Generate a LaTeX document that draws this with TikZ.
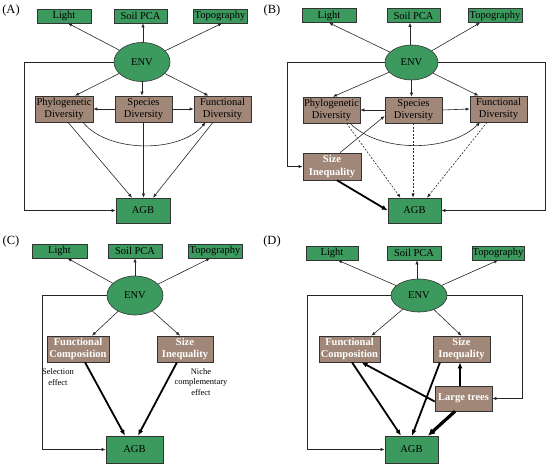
\documentclass[tikz,border=0pt]{standalone}
\usepackage{fontspec}
\setmainfont{Liberation Serif}
\usetikzlibrary{arrows.meta,shapes.geometric,calc}
\definecolor{boxgreen}{HTML}{3D9A5F}
\definecolor{boxbrown}{HTML}{A08778}
\definecolor{edgegray}{HTML}{333333}
\begin{document}
\begin{tikzpicture}[x=1pt,y=-1pt,
  every node/.style={inner sep=0pt, align=center, font=\fontsize{10.5}{12.5}\selectfont},
  gbox/.style={draw=edgegray, fill=boxgreen, line width=0.6pt, minimum height=14pt},
  abox/.style={draw=edgegray, fill=boxgreen, line width=0.6pt, minimum height=25pt},
  bbox/.style={draw=edgegray, fill=boxbrown, line width=0.6pt, minimum height=26pt},
  wbox/.style={bbox, text=white, font=\fontsize{10.5}{12.5}\selectfont\bfseries},
  envnode/.style={ellipse, draw=edgegray, fill=boxgreen, line width=0.6pt},
  plab/.style={font=\fontsize{12.5}{14}\selectfont},
  note/.style={font=\fontsize{8.5}{10.5}\selectfont},
  arr/.style={draw=black!85, line width=0.6pt, -{Latex[length=4pt,width=3.2pt]}},
  darr/.style={arr, dash pattern=on 2pt off 1.5pt},
  tarr/.style={draw=black, line width=1.8pt, -{Latex[length=6pt,width=5pt]}},
  vtarr/.style={draw=black, line width=3.2pt, -{Latex[length=7pt,width=7pt]}}
]
\useasboundingbox (0,0) rectangle (550,468);

% ---------------- Panel A ----------------
\node[plab] (labA) at (11,10) {(A)};
\node[gbox, minimum width=54pt] (LightA) at (64,16) {Light};
\node[gbox, minimum width=53pt] (SoilA) at (140.5,16) {Soil PCA};
\node[gbox, minimum width=54pt] (TopoA) at (220,16) {Topography};
\node[envnode, minimum width=56pt, minimum height=39pt] (ENVA) at (142,62) {ENV};
\node[bbox, minimum width=58pt] (PhyA) at (64,109) {Phylogenetic\\Diversity};
\node[bbox, minimum width=57pt] (SpA) at (143.5,109) {Species\\Diversity};
\node[bbox, minimum width=57pt] (FuA) at (222.5,109) {Functional\\Diversity};
\node[abox, minimum width=54pt] (AGBA) at (143,210.5) {AGB};

\draw[arr] (ENVA) -- ($(LightA.south)+(4,0)$);
\draw[arr] (ENVA.north -| SoilA.south) ++(2.5,0) -- ($(SoilA.south)+(2.5,0)$);
\draw[arr] (ENVA) -- ($(TopoA.south)+(2,0)$);
\draw[arr] (ENVA) -- ($(PhyA.north)+(11,0)$);
\draw[arr] (ENVA.south) -- (ENVA.south |- SpA.north);
\draw[arr] (ENVA) -- ($(FuA.north)+(-14,0)$);
\draw[arr] (SpA.west) -- (PhyA.east);
\draw[arr] (SpA.east) -- (FuA.west);
\draw[arr] ($(PhyA.south)+(19,0)$) .. controls +(25,31) and +(-25,31) .. ($(FuA.south)+(-17,0)$);
\draw[arr] ($(PhyA.south)+(4,0)$) -- ($(AGBA.north)+(-11,0)$);
\draw[arr] (SpA.south) -- (SpA.south |- AGBA.north);
\draw[arr] ($(FuA.south)+(-9.5,0)$) -- ($(AGBA.north)+(10,0)$);
\draw[arr] (ENVA.west) -- ++(-89,0) |- (AGBA.west);

% ---------------- Panel B ----------------
\node[plab] (labB) at (272,10) {(B)};
\node[gbox, minimum width=54pt] (LightB) at (329,15.5) {Light};
\node[gbox, minimum width=53pt] (SoilB) at (413.5,15.5) {Soil PCA};
\node[gbox, minimum width=54pt] (TopoB) at (495,15.5) {Topography};
\node[envnode, minimum width=53pt, minimum height=35pt] (ENVB) at (411.5,62.5) {ENV};
\node[bbox, minimum width=57pt] (PhyB) at (331.5,110) {Phylogenetic\\Diversity};
\node[bbox, minimum width=57pt] (SpB) at (413.5,110) {Species\\Diversity};
\node[bbox, minimum width=57pt] (FuB) at (498.5,109) {Functional\\Diversity};
\node[wbox, minimum width=58pt, minimum height=27pt] (SizeB) at (332,166.5) {Size\\Inequality};
\node[abox, minimum width=53pt] (AGBB) at (414.5,210.5) {AGB};

\draw[arr] (ENVB) -- (LightB.south);
\draw[arr] (ENVB.north -| SoilB.south) ++(-3.5,0) -- ($(SoilB.south)+(-3.5,0)$);
\draw[arr] (ENVB) -- ($(TopoB.south)+(-15,0)$);
\draw[arr] (ENVB) -- ($(PhyB.north)+(1.5,0)$);
\draw[arr] (ENVB.south) -- (ENVB.south |- SpB.north);
\draw[arr] (ENVB) -- ($(FuB.north)+(-20,0)$);
\draw[arr] (SpB.west) -- (PhyB.east);
\draw[arr] (SpB.east) -- (FuB.west);
\draw[arr] ($(PhyB.south)+(18.5,0)$) .. controls +(30,30) and +(-30,30) .. ($(FuB.south)+(-18.5,0)$);
\draw[arr] ($(SizeB.north)+(8,0)$) -- ($(SpB.west)+(0,6)$);
\draw[tarr] ($(SizeB.south)+(5,0)$) -- (AGBB.west);
\draw[darr] ($(PhyB.south)+(15,0)$) -- ($(AGBB.north)+(-14,0)$);
\draw[darr] ($(SpB.south)+(-0.5,0)$) -- ($(AGBB.north)+(-1.5,0)$);
\draw[darr] ($(FuB.south)+(-11.5,0)$) -- ($(AGBB.north)+(12.5,0)$);
\draw[arr] (ENVB.west) -- ++(-97,0) |- (SizeB.west);
\draw[arr] (ENVB.east) -- ++(107,0) |- (AGBB.east);

% ---------------- Panel C ----------------
\node[plab] (labC) at (11,241) {(C)};
\node[gbox, minimum width=55pt] (LightC) at (59.5,251) {Light};
\node[gbox, minimum width=54pt] (SoilC) at (135,251) {Soil PCA};
\node[gbox, minimum width=54pt] (TopoC) at (215,251) {Topography};
\node[envnode, minimum width=56pt, minimum height=39pt] (ENVC) at (135,295.5) {ENV};
\node[wbox, minimum width=62pt] (FCC) at (78,349) {Functional\\Composition};
\node[wbox, minimum width=56pt] (SIC) at (185,349) {Size\\Inequality};
\node[abox, minimum width=57pt, minimum height=27pt] (AGBC) at (134.5,449.5) {AGB};
\node[note] (selC) at (58,377) {Selection\\effect};
\node[note] (nicC) at (201,382) {Niche\\complementary\\effect};

\draw[arr] (ENVC) -- ($(LightC.south)+(8,0)$);
\draw[arr] (ENVC.north) -- (ENVC.north |- SoilC.south);
\draw[arr] (ENVC) -- ($(TopoC.south)+(-5,0)$);
\draw[arr] (ENVC) -- ($(FCC.north)+(14,0)$);
\draw[arr] (ENVC) -- ($(SIC.north)+(-5,0)$);
\draw[tarr] ($(FCC.south)+(7,0)$) -- ($(AGBC.north)+(-9.5,0)$);
\draw[tarr] ($(SIC.south)+(-8,0)$) -- ($(AGBC.north)+(3.5,0)$);
\draw[arr] (ENVC.west) -- ++(-64,0) |- (AGBC.west);

% ---------------- Panel D ----------------
\node[plab] (labD) at (272,241) {(D)};
\node[gbox, minimum width=52pt] (LightD) at (332,253) {Light};
\node[gbox, minimum width=54pt] (SoilD) at (414,253) {Soil PCA};
\node[gbox, minimum width=52pt] (TopoD) at (498,253) {Topography};
\node[envnode, minimum width=56pt, minimum height=33pt] (ENVD) at (419,295.5) {ENV};
\node[wbox, minimum width=61pt] (FCD) at (349.5,349) {Functional\\Composition};
\node[wbox, minimum width=57pt] (SID) at (461.5,349) {Size\\Inequality};
\node[wbox, minimum width=57pt, minimum height=25pt] (LTD) at (463.5,398.5) {Large trees};
\node[abox, minimum width=53pt, minimum height=27pt] (AGBD) at (411.5,449.5) {AGB};

\draw[arr] (ENVD) -- ($(LightD.south)+(6,0)$);
\draw[arr] (ENVD.north -| SoilD.south) ++(3,0) -- ($(SoilD.south)+(3,0)$);
\draw[arr] (ENVD) -- (TopoD.south);
\draw[arr] (ENVD) -- ($(FCD.north)+(22,0)$);
\draw[arr] (ENVD) -- (SID.north);
\draw[tarr] ($(LTD.west)+(0,3)$) -- ($(FCD.south)+(12,0)$);
\draw[tarr] ($(LTD.north)+(-3.5,0)$) -- ($(SID.south)+(-1.5,0)$);
\draw[vtarr] ($(LTD.south)+(-8.5,0)$) -- ($(AGBD.north)+(16.5,0)$);
\draw[tarr] ($(FCD.south)+(2.5,0)$) -- ($(AGBD.north)+(-10.5,0)$);
\draw[tarr] ($(SID.south)+(-21.5,0)$) -- ($(AGBD.north)+(0.5,0)$);
\draw[arr] (ENVD.west) -- ++(-83,0) |- (AGBD.west);
\draw[arr] (ENVD.east) -- ++(75,0) |- (LTD.east);
\end{tikzpicture}
\end{document}
